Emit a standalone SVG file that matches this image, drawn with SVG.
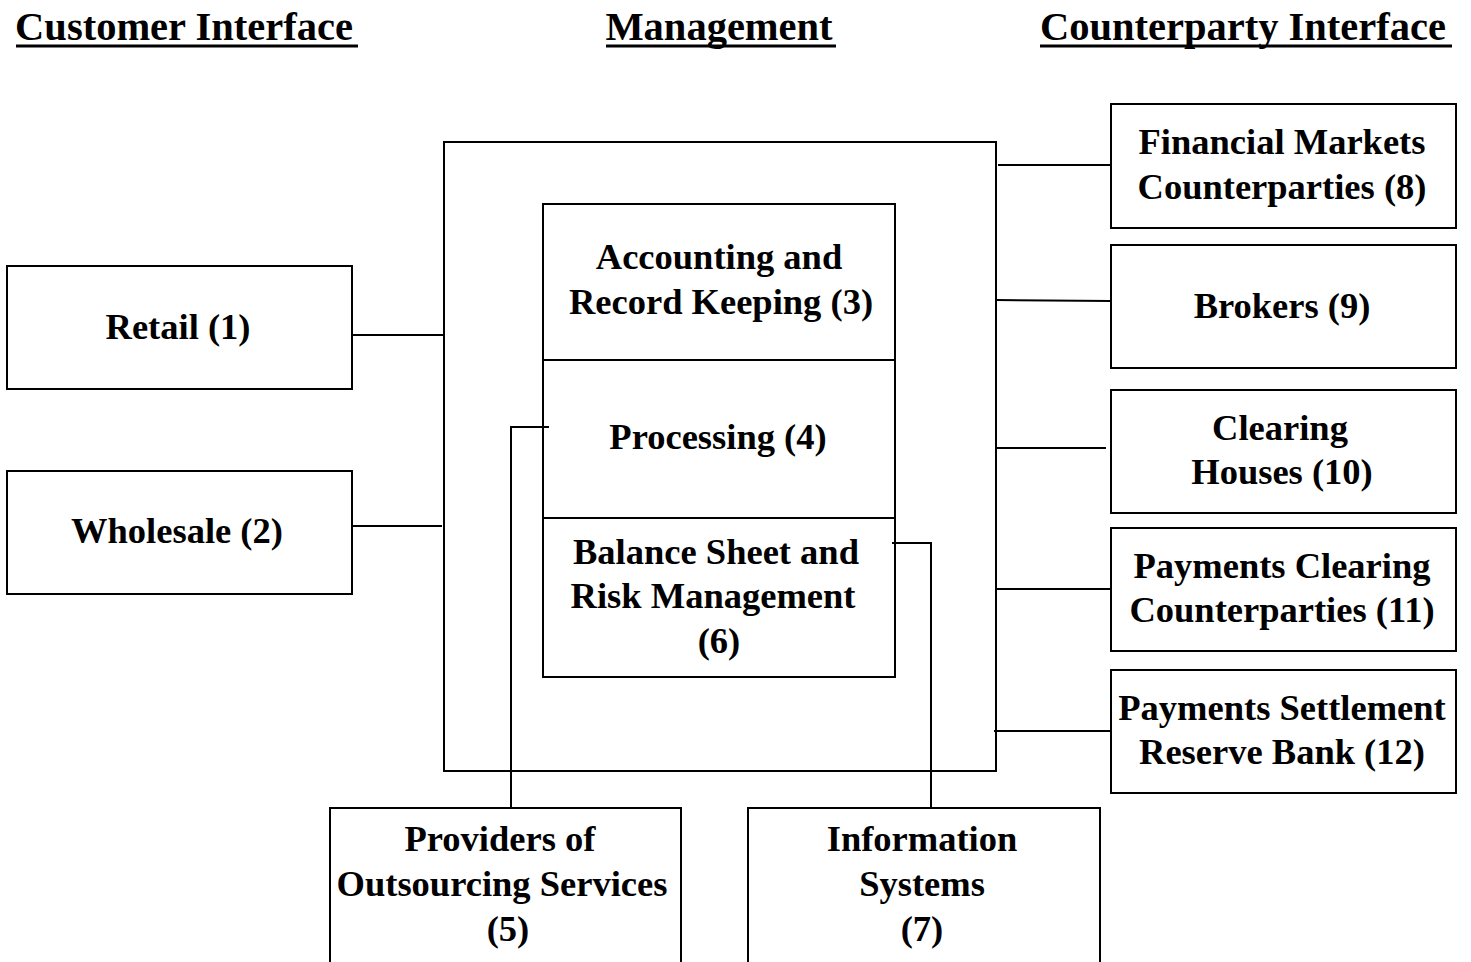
<svg xmlns="http://www.w3.org/2000/svg" width="1471" height="962" viewBox="0 0 1471 962">
<style>
.box{fill:none;stroke:#000;stroke-width:2}
.t{font-family:"Liberation Serif","Times New Roman",serif;font-weight:bold;font-size:36.5px;fill:#000;text-anchor:middle}
.h{font-family:"Liberation Serif","Times New Roman",serif;font-weight:bold;font-size:40.5px;fill:#000;text-anchor:middle}
.ul{stroke:#000;stroke-width:3}
.c{fill:none;stroke:#000;stroke-width:2}
</style>
<rect width="1471" height="962" fill="#fff"/>
<g id="headers">
<text class="h" x="184" y="40">Customer Interface</text>
<line class="ul" x1="16" y1="46" x2="358" y2="46"/>
<text class="h" x="719" y="40">Management</text>
<line class="ul" x1="606" y1="46" x2="836" y2="46"/>
<text class="h" x="1243" y="40">Counterparty Interface</text>
<line class="ul" x1="1040" y1="46" x2="1452" y2="46"/>
</g>
<g id="connectors">
<polyline class="c" points="352,335 444,335"/>
<polyline class="c" points="352,526 442,526"/>
<polyline class="c" points="998,165 1111,165"/>
<polyline class="c" points="996,300 1111,301"/>
<polyline class="c" points="996,448 1106,448"/>
<polyline class="c" points="996,589 1111,589"/>
<polyline class="c" points="994,731 1111,731"/>
<polyline class="c" points="511,808 511,427 549,427"/>
<polyline class="c" points="931,808 931,543 892,543"/>
</g>
<g id="management">
<rect class="box" x="444" y="142" width="552" height="629"/>
</g>
<g id="n3">
<rect class="box" x="543" y="204" width="352" height="156"/>
<text class="t" x="719" y="269">Accounting and</text>
<text class="t" x="721" y="314">Record Keeping (3)</text>
</g>
<g id="n4">
<rect class="box" x="543" y="360" width="352" height="158"/>
<text class="t" x="718" y="449">Processing (4)</text>
</g>
<g id="n6">
<rect class="box" x="543" y="518" width="352" height="159"/>
<text class="t" x="716" y="564">Balance Sheet and</text>
<text class="t" x="713" y="608">Risk Management</text>
<text class="t" x="719" y="653">(6)</text>
</g>
<g id="n1">
<rect class="box" x="7" y="266" width="345" height="123"/>
<text class="t" x="178" y="339">Retail (1)</text>
</g>
<g id="n2">
<rect class="box" x="7" y="471" width="345" height="123"/>
<text class="t" x="177" y="543">Wholesale (2)</text>
</g>
<g id="n8">
<rect class="box" x="1111" y="104" width="345" height="124"/>
<text class="t" x="1282" y="154">Financial Markets</text>
<text class="t" x="1282" y="199">Counterparties (8)</text>
</g>
<g id="n9">
<rect class="box" x="1111" y="245" width="345" height="123"/>
<text class="t" x="1282" y="318">Brokers (9)</text>
</g>
<g id="n10">
<rect class="box" x="1111" y="390" width="345" height="123"/>
<text class="t" x="1280" y="440">Clearing</text>
<text class="t" x="1282" y="484">Houses (10)</text>
</g>
<g id="n11">
<rect class="box" x="1111" y="528" width="345" height="123"/>
<text class="t" x="1282" y="578">Payments Clearing</text>
<text class="t" x="1282" y="622">Counterparties (11)</text>
</g>
<g id="n12">
<rect class="box" x="1111" y="670" width="345" height="123"/>
<text class="t" x="1282" y="720">Payments Settlement</text>
<text class="t" x="1282" y="764">Reserve Bank (12)</text>
</g>
<g id="n5">
<rect class="box" x="330" y="808" width="351" height="170"/>
<text class="t" x="500" y="851">Providers of</text>
<text class="t" x="502" y="896">Outsourcing Services</text>
<text class="t" x="508" y="941">(5)</text>
</g>
<g id="n7">
<rect class="box" x="748" y="808" width="352" height="170"/>
<text class="t" x="922" y="851">Information</text>
<text class="t" x="922" y="896">Systems</text>
<text class="t" x="922" y="941">(7)</text>
</g>
</svg>
